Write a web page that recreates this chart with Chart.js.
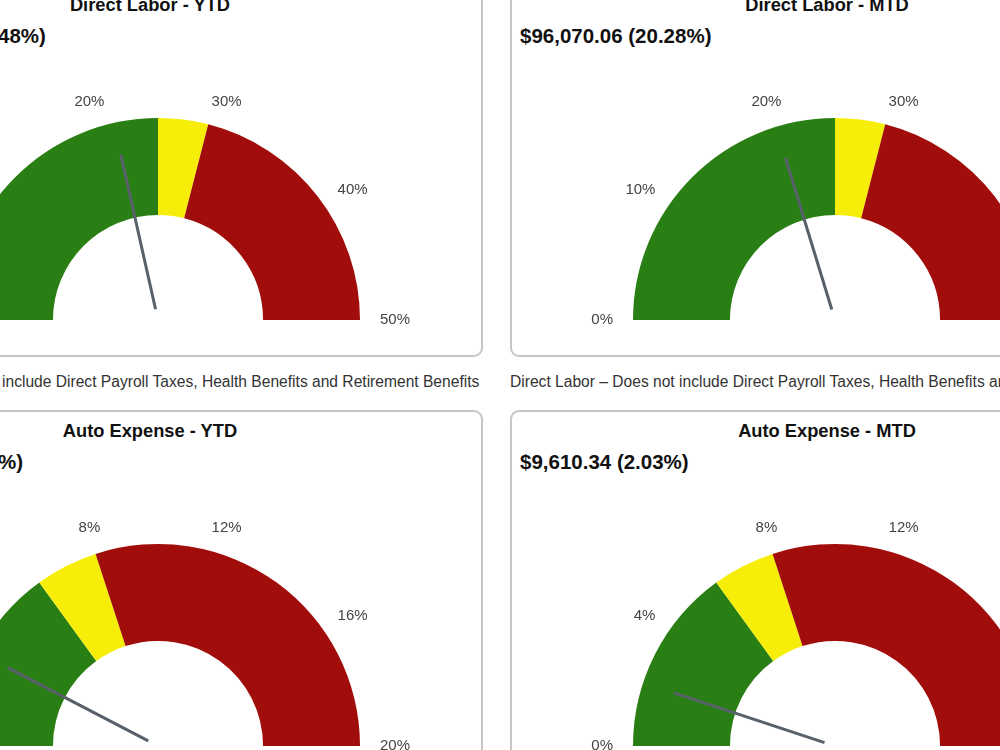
<!DOCTYPE html>
<html>
<head>
<meta charset="utf-8">
<title>Gauges</title>
<script src="https://cdn.jsdelivr.net/npm/chart.js@4.4.1/dist/chart.umd.min.js"></script>
<style>
  html, body { margin: 0; padding: 0; background: #fff; }
  body { width: 1000px; height: 750px; overflow: hidden; position: relative; font-family: "Liberation Sans", Arial, sans-serif; }
  #wrap { position: absolute; left: -167px; top: -16px; width: 1330px; height: 820px; }
  .card { position: absolute; width: 650px; height: 373px; box-sizing: border-box; border: 2px solid #c6c6c6; border-radius: 9px; background: #fff; }
  .card .title { position: absolute; left: 0; top: 8px; width: 630px; text-align: center; font-weight: bold; font-size: 18.3px; line-height: 22px; color: #111; }
  .card .amount { position: absolute; left: 8px; top: 38px; font-weight: bold; font-size: 20.5px; line-height: 24px; color: #111; white-space: nowrap; }
  .card .gauge { position: absolute; left: 43px; top: 74px; width: 560px; height: 280px; }
  .caption { position: absolute; font-size: 15.6px; line-height: 20px; color: #333; white-space: nowrap; }
</style>
</head>
<body>
<div id="wrap"></div>
<script>
// gauge data
const gaugeTitles = ["Direct Labor - YTD", "Direct Labor - MTD", "Auto Expense - YTD", "Auto Expense - MTD"]
const gaugeAmounts = ["$962,483.27", "$96,070.06", "$98,731.52", "$9,610.34"]
const gaugeValues = [21.48, 20.28, 3.06, 2.03]

// band limits: green up to, yellow up to, red up to (= max)
const laborBands = [25, 29, 50]
const autoBands = [6, 8, 20]
const laborTicks = [0, 10, 20, 30, 40, 50]
const autoTicks = [0, 4, 8, 12, 16, 20]

const bandColors = ["#2a7f14", "#f6ee08", "#a10d0a"]
const captionText = "Direct Labor \u2013 Does not include Direct Payroll Taxes, Health Benefits and Retirement Benefits"

// card positions inside #wrap
const cardLeft = [0, 677, 0, 677]
const cardTop = [0, 0, 426, 426]

// draws tick labels round the arc and the needle
const gaugePlugin = {
  id: "gauge",
  afterDatasetsDraw(chart, args, opts) {
    const arc = chart.getDatasetMeta(0).data[0]
    if (!arc) return
    const cx = arc.x
    const cy = arc.y
    const R = arc.outerRadius
    const max = opts.max
    const ctx = chart.ctx
    ctx.save()
    ctx.font = '15px "Liberation Sans", Arial, sans-serif'
    ctx.fillStyle = "#444"
    opts.ticks.forEach((t) => {
      const a = Math.PI + (Math.PI * t) / max
      const r = R + 20
      const x = cx + r * Math.cos(a)
      const y = cy + r * Math.sin(a)
      const c = Math.cos(a)
      ctx.textAlign = c < -0.5 ? "right" : c > 0.5 ? "left" : "center"
      ctx.textBaseline = -Math.sin(a) > 0.8 ? "bottom" : "middle"
      ctx.fillText(t + "%", x, y)
    })
    // needle
    const v = Math.min(Math.max(opts.value, 0), max)
    const na = Math.PI + (Math.PI * v) / max
    ctx.strokeStyle = "#58616a"
    ctx.lineWidth = 3
    ctx.beginPath()
    ctx.moveTo(cx + 11 * Math.cos(na), cy + 11 * Math.sin(na))
    ctx.lineTo(cx + R * 0.84 * Math.cos(na), cy + R * 0.84 * Math.sin(na))
    ctx.stroke()
    ctx.restore()
  },
}

const wrap = document.getElementById("wrap")

for (let i = 0; i < 4; i++) {
  const isLabor = i < 2
  const bands = isLabor ? laborBands : autoBands
  const ticks = isLabor ? laborTicks : autoTicks
  const max = bands[bands.length - 1]

  const card = document.createElement("div")
  card.className = "card"
  card.style.left = cardLeft[i] + "px"
  card.style.top = cardTop[i] + "px"

  const title = document.createElement("div")
  title.className = "title"
  title.textContent = gaugeTitles[i]
  card.appendChild(title)

  const amount = document.createElement("div")
  amount.className = "amount"
  amount.textContent = gaugeAmounts[i] + " (" + gaugeValues[i].toFixed(2) + "%)"
  card.appendChild(amount)

  const box = document.createElement("div")
  box.className = "gauge"
  const canvas = document.createElement("canvas")
  box.appendChild(canvas)
  card.appendChild(box)
  wrap.appendChild(card)

  // segment sizes from the band limits
  const sizes = bands.map((b, k) => b - (k > 0 ? bands[k - 1] : 0))

  new Chart(canvas, {
    type: "doughnut",
    data: {
      labels: ["Good", "Warning", "Over"],
      datasets: [
        {
          data: sizes,
          backgroundColor: bandColors,
          borderWidth: 0,
        },
      ],
    },
    options: {
      responsive: true,
      maintainAspectRatio: false,
      animation: false,
      rotation: -90,
      circumference: 180,
      cutout: "52%",
      layout: { padding: { left: 78, right: 78, top: 58, bottom: 20 } },
      plugins: {
        legend: { display: false },
        tooltip: { enabled: false },
        gauge: { max: max, ticks: ticks, value: gaugeValues[i] },
      },
    },
    plugins: [gaugePlugin],
  })
}

// captions under the top row
;[0, 677].forEach((x) => {
  const cap = document.createElement("div")
  cap.className = "caption"
  cap.style.left = x + "px"
  cap.style.top = "388px"
  cap.textContent = captionText
  wrap.appendChild(cap)
})
</script>
</body>
</html>
